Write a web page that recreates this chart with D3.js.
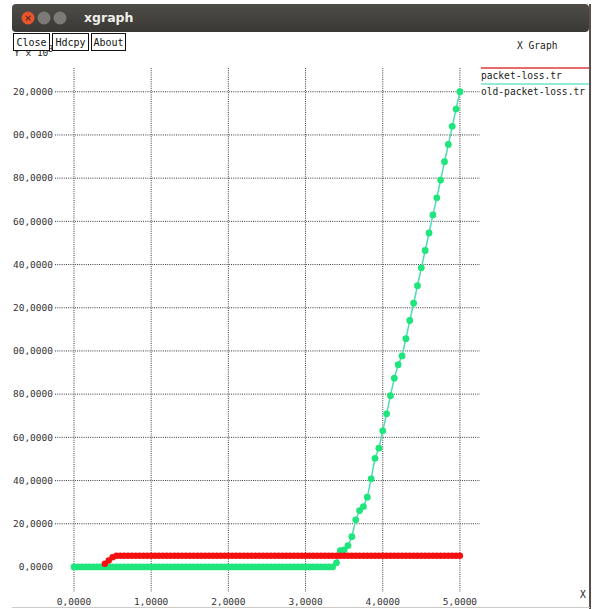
<!DOCTYPE html>
<html>
<head>
<meta charset="utf-8">
<script src="https://cdn.jsdelivr.net/npm/d3@7"></script>
<style>
  body { margin: 0; background: #fff; }
  text { font-family: "DejaVu Sans Mono", monospace; }
</style>
</head>
<body>
<div id="chart"></div>
<script>
// data
const seriesNames = ["packet-loss.tr", "old-packet-loss.tr"];

const redX = [0.40,0.45,0.50,0.55,0.60,0.65,0.70,0.75,0.80,0.85,0.90,0.95,
  1.00,1.05,1.10,1.15,1.20,1.25,1.30,1.35,1.40,1.45,1.50,1.55,1.60,1.65,1.70,1.75,1.80,1.85,1.90,1.95,
  2.00,2.05,2.10,2.15,2.20,2.25,2.30,2.35,2.40,2.45,2.50,2.55,2.60,2.65,2.70,2.75,2.80,2.85,2.90,2.95,
  3.00,3.05,3.10,3.15,3.20,3.25,3.30,3.35,3.40,3.45,3.50,3.55,3.60,3.65,3.70,3.75,3.80,3.85,3.90,3.95,
  4.00,4.05,4.10,4.15,4.20,4.25,4.30,4.35,4.40,4.45,4.50,4.55,4.60,4.65,4.70,4.75,4.80,4.85,4.90,4.95,5.00];
const redY = [1.5,3.0,4.5,5.2,5.2,5.2,5.2,5.2,5.2,5.2,5.2,5.2,
  5.2,5.2,5.2,5.2,5.2,5.2,5.2,5.2,5.2,5.2,5.2,5.2,5.2,5.2,5.2,5.2,5.2,5.2,5.2,5.2,
  5.2,5.2,5.2,5.2,5.2,5.2,5.2,5.2,5.2,5.2,5.2,5.2,5.2,5.2,5.2,5.2,5.2,5.2,5.2,5.2,
  5.2,5.2,5.2,5.2,5.2,5.2,5.2,5.2,5.2,5.2,5.2,5.2,5.2,5.2,5.2,5.2,5.2,5.2,5.2,5.2,
  5.2,5.2,5.2,5.2,5.2,5.2,5.2,5.2,5.2,5.2,5.2,5.2,5.2,5.2,5.2,5.2,5.2,5.2,5.2,5.2,5.2];

const greenX = [0.00,0.05,0.10,0.15,0.20,0.25,0.30,0.35,0.40,0.45,0.50,0.55,0.60,0.65,0.70,0.75,0.80,0.85,0.90,0.95,
  1.00,1.05,1.10,1.15,1.20,1.25,1.30,1.35,1.40,1.45,1.50,1.55,1.60,1.65,1.70,1.75,1.80,1.85,1.90,1.95,
  2.00,2.05,2.10,2.15,2.20,2.25,2.30,2.35,2.40,2.45,2.50,2.55,2.60,2.65,2.70,2.75,2.80,2.85,2.90,2.95,
  3.00,3.05,3.10,3.15,3.20,3.25,3.30,3.35,3.40,3.45,3.50,3.55,3.60,3.65,3.70,3.75,3.80,3.85,3.90,3.95,
  4.00,4.05,4.10,4.15,4.20,4.25,4.30,4.35,4.40,4.45,4.50,4.55,4.60,4.65,4.70,4.75,4.80,4.85,4.90,4.95,5.00];
const greenY = [0,0,0,0,0,0,0,0,0,0,0,0,0,0,0,0,0,0,0,0,
  0,0,0,0,0,0,0,0,0,0,0,0,0,0,0,0,0,0,0,0,
  0,0,0,0,0,0,0,0,0,0,0,0,0,0,0,0,0,0,0,0,
  0,0,0,0,0,0,0,0,1.9,7.5,7.9,9.9,14.0,21.8,26.1,27.9,32.3,40.8,50.3,55.0,
  63.0,70.9,79.3,87.4,93.6,97.7,105.7,114.1,122.1,130.2,138.5,146.5,154.6,163.0,170.9,179.1,187.6,195.6,204.0,212.0,220.0];

const xTicks = [0, 1, 2, 3, 4, 5];
const xTickLabels = ["0,0000", "1,0000", "2,0000", "3,0000", "4,0000", "5,0000"];
const yTicks = [0, 20, 40, 60, 80, 100, 120, 140, 160, 180, 200, 220];
const yTickLabels = ["0,0000", "20,0000", "40,0000", "60,0000", "80,0000", "00,0000",
  "20,0000", "40,0000", "60,0000", "80,0000", "00,0000", "20,0000"];
const buttons = ["Close", "Hdcpy", "About"];

const W = 592, H = 609;
const svg = d3.select("#chart").append("svg")
  .attr("width", W).attr("height", H);

// window frame
const grad = svg.append("defs").append("linearGradient")
  .attr("id", "tb").attr("x1", 0).attr("x2", 0).attr("y1", 0).attr("y2", 1);
grad.append("stop").attr("offset", "0%").attr("stop-color", "#4d4c47");
grad.append("stop").attr("offset", "100%").attr("stop-color", "#3a3935");

svg.append("rect").attr("x", 12).attr("y", 4).attr("width", 577).attr("height", 28)
  .attr("rx", 4).attr("fill", "url(#tb)");
svg.append("line").attr("x1", 590).attr("x2", 590).attr("y1", 4).attr("y2", 609)
  .attr("stroke", "#5a4f4a").attr("stroke-width", 2);
svg.append("line").attr("x1", 12).attr("x2", 590).attr("y1", 607.5).attr("y2", 607.5)
  .attr("stroke", "#cfcac6");

svg.append("circle").attr("cx", 28).attr("cy", 18).attr("r", 6.5).attr("fill", "#e8552a");
svg.append("text").attr("x", 28).attr("y", 18).attr("dy", "0.35em")
  .attr("text-anchor", "middle").attr("fill", "#5a2a1a")
  .style("font-family", "DejaVu Sans").style("font-size", "9px").style("font-weight", "bold").text("×");
[44, 60].forEach(cx => {
  svg.append("circle").attr("cx", cx).attr("cy", 18).attr("r", 6.5).attr("fill", "#7b7a74");
});
svg.append("text").attr("x", 84).attr("y", 18).attr("dy", "0.35em")
  .attr("fill", "#eeeeea").style("font-family", "DejaVu Sans")
  .style("font-size", "12.5px").style("font-weight", "bold").text("xgraph");

// scales
const x = d3.scaleLinear().domain([-0.246, 5.26]).range([55, 480]);
const y = d3.scaleLinear().domain([-11.6, 231]).range([592, 68]);

// grid
const grid = svg.append("g").attr("stroke", "#3a3a3a").attr("stroke-dasharray", "1,1.2");
grid.selectAll("line.v").data(xTicks).join("line")
  .attr("x1", d => x(d)).attr("x2", d => x(d))
  .attr("y1", y.range()[1]).attr("y2", y.range()[0]);
grid.selectAll("line.h").data(yTicks.filter(d => d > 0)).join("line")
  .attr("x1", x.range()[0]).attr("x2", x.range()[1])
  .attr("y1", d => y(d)).attr("y2", d => y(d));

// tick labels
svg.append("g").selectAll("text").data(yTicks).join("text")
  .attr("x", 53).attr("y", d => y(d)).attr("dy", "0.35em")
  .attr("text-anchor", "end").attr("fill", "#333").style("font-size", "9.5px")
  .text((d, i) => yTickLabels[i]);
svg.append("g").selectAll("text").data(xTicks).join("text")
  .attr("x", d => x(d)).attr("y", 602).attr("dy", "0.35em")
  .attr("text-anchor", "middle").attr("fill", "#333").style("font-size", "9.5px")
  .text((d, i) => xTickLabels[i]);

// series
const green = greenX.map((v, i) => [v, greenY[i]]);
const red = redX.map((v, i) => [v, redY[i]]);
const line = d3.line().x(d => x(d[0])).y(d => y(d[1]));

svg.append("path").datum(green).attr("d", line)
  .attr("fill", "none").attr("stroke", "#4fdcb2").attr("stroke-width", 1.5);
svg.append("g").selectAll("circle").data(green).join("circle")
  .attr("cx", d => x(d[0])).attr("cy", d => y(d[1])).attr("r", 3.4).attr("fill", "#1ee57c");

svg.append("path").datum(red).attr("d", line)
  .attr("fill", "none").attr("stroke", "#f01010").attr("stroke-width", 1.5);
svg.append("g").selectAll("circle").data(red).join("circle")
  .attr("cx", d => x(d[0])).attr("cy", d => y(d[1])).attr("r", 3.2).attr("fill", "#f51010");

// legend
const legColors = ["#e03a3a", "#6fe3c8"];
seriesNames.forEach((n, i) => {
  const ly = 68 + i * 16;
  svg.append("line").attr("x1", 481).attr("x2", 589).attr("y1", ly).attr("y2", ly)
    .attr("stroke", legColors[i]).attr("stroke-width", 1.5);
  svg.append("text").attr("x", 481).attr("y", ly + 8).attr("dy", "0.35em")
    .attr("fill", "#222").style("font-size", "9.6px").text(n);
});

svg.append("text").attr("x", 517).attr("y", 46).attr("dy", "0.35em")
  .attr("fill", "#222").style("font-size", "9.6px").text("X Graph");
svg.append("text").attr("x", 580).attr("y", 595).attr("dy", "0.35em")
  .attr("fill", "#222").style("font-size", "9.6px").text("X");

// y-axis unit, partly hidden by the buttons
const yl = svg.append("text").attr("x", 14).attr("y", 53).attr("dy", "0.35em")
  .attr("fill", "#222").style("font-size", "9.5px");
yl.append("tspan").text("Y x 10");
yl.append("tspan").attr("dy", "-0.5em").style("font-size", "8px").text("3");

// buttons
const bx = [13, 52, 91], bw = [36, 36, 34];
buttons.forEach((b, i) => {
  svg.append("rect").attr("x", bx[i] + 0.5).attr("y", 33.5).attr("width", bw[i]).attr("height", 17)
    .attr("fill", "#fff").attr("stroke", "#111");
  svg.append("text").attr("x", bx[i] + bw[i] / 2 + 0.5).attr("y", 42).attr("dy", "0.35em")
    .attr("text-anchor", "middle").attr("fill", "#111").style("font-size", "10px").text(b);
});
</script>
</body>
</html>
